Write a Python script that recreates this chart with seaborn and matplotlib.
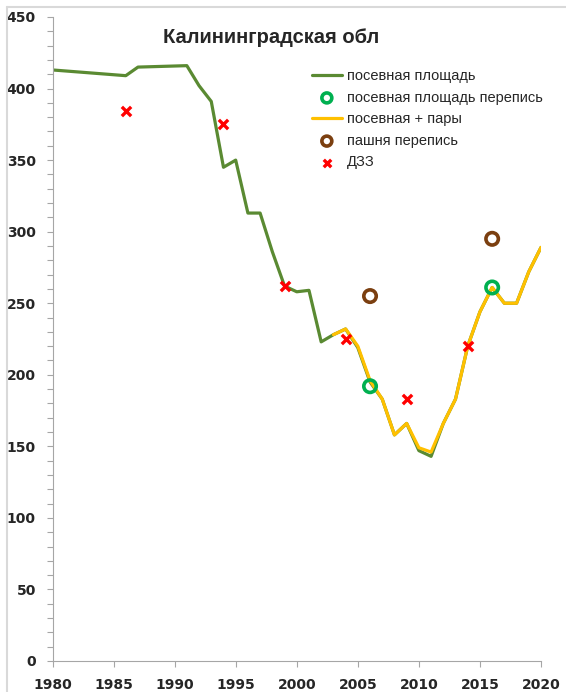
import matplotlib
matplotlib.use("Agg")
import matplotlib.pyplot as plt
import seaborn as sns
import pandas as pd
from matplotlib.lines import Line2D
from matplotlib.ticker import MultipleLocator

# ---- data ----
years_sown = [1980, 1986, 1987, 1991, 1992, 1993, 1994, 1995, 1996, 1997, 1998, 1999,
              2000, 2001, 2002, 2003, 2004, 2005, 2006, 2007, 2008, 2009, 2010, 2011,
              2012, 2013, 2014, 2015, 2016, 2017, 2018, 2019, 2020]
sown = [413, 409, 415, 416, 402, 391, 345, 350, 313, 313, 286, 262,
        258, 259, 223, 228, 232, 219, 195, 183, 158, 166, 147, 143,
        166, 183, 220, 244, 261, 250, 250, 272, 289]

years_fallow = [2003, 2004, 2005, 2006, 2007, 2008, 2009, 2010, 2011, 2012, 2013,
                2014, 2015, 2016, 2017, 2018, 2019, 2020]
sown_fallow = [228, 232, 220, 196, 183, 158, 166, 149, 146, 166, 183,
               220, 244, 261, 250, 250, 272, 289]

census_years = [2006, 2016]
census_sown = [192, 261]
census_arable = [255, 295]

rs_years = [1986, 1994, 1999, 2004, 2009, 2014]
rs_values = [384, 375, 262, 225, 183, 220]

labels = ["посевная площадь", "посевная площадь перепись", "посевная + пары",
          "пашня перепись", "ДЗЗ"]
title = "Калининградская обл"
x_ticks = list(range(1980, 2021, 5))
y_ticks = list(range(0, 451, 50))

# ---- style ----
sns.set_style("white")
plt.rcParams["font.family"] = ["Liberation Sans", "DejaVu Sans"]

W, H = 566, 692
fig = plt.figure(figsize=(W / 100, H / 100), dpi=100)
ax = fig.add_axes([52.5 / W, (H - 661) / H, (541 - 52.5) / W, (661 - 17) / H])

df_sown = pd.DataFrame({"year": years_sown, "v": sown})
df_fallow = pd.DataFrame({"year": years_fallow, "v": sown_fallow})
df_cs = pd.DataFrame({"year": census_years, "v": census_sown})
df_ca = pd.DataFrame({"year": census_years, "v": census_arable})
df_rs = pd.DataFrame({"year": rs_years, "v": rs_values})

sns.lineplot(data=df_sown, x="year", y="v", ax=ax, color="#5A8A32", lw=2.3,
             label=labels[0], zorder=2)
sns.scatterplot(data=df_cs, x="year", y="v", ax=ax, marker="o", s=80,
                facecolors="none", edgecolors="#00B050", linewidths=2.6,
                label=labels[1], zorder=5)
sns.lineplot(data=df_fallow, x="year", y="v", ax=ax, color="#FFC000", lw=2.3,
             label=labels[2], zorder=3)
sns.scatterplot(data=df_ca, x="year", y="v", ax=ax, marker="o", s=80,
                facecolors="none", edgecolors="#7B3F10", linewidths=2.6,
                label=labels[3], zorder=5)
sns.scatterplot(data=df_rs, x="year", y="v", ax=ax, marker="x", s=45,
                color="#FF0000", linewidth=2.4, label=labels[4], zorder=6)

ax.set_xlim(1980, 2020)
ax.set_ylim(0, 450)
ax.set_xticks(x_ticks)
ax.set_yticks(y_ticks)
ax.yaxis.set_minor_locator(MultipleLocator(10))
ax.set_xlabel("")
ax.set_ylabel("")
for lab in ax.get_xticklabels() + ax.get_yticklabels():
    lab.set_fontweight("bold")
    lab.set_fontsize(10)
    lab.set_fontfamily("DejaVu Sans")
ax.tick_params(axis="both", which="major", direction="out", length=4, width=0.8,
               color="#A6A6A6", left=True, bottom=True)
ax.tick_params(axis="y", which="minor", direction="out", length=4, width=0.8,
               color="#A6A6A6", left=True)
ax.tick_params(axis="y", pad=8)
ax.tick_params(axis="x", pad=8.5)
for s in ["top", "right"]:
    ax.spines[s].set_visible(False)
for s in ["left", "bottom"]:
    ax.spines[s].set_color("#A6A6A6")
    ax.spines[s].set_linewidth(0.8)

fig.text(271.5 / W, 1 - 43.3 / H, title, ha="center", va="baseline",
         fontsize=14.5, fontweight="bold", family=["Liberation Sans", "DejaVu Sans"])

h, l = ax.get_legend_handles_labels()
order = [l.index(x) for x in labels]
leg = ax.legend([h[i] for i in order], [l[i] for i in order], loc="upper left",
                bbox_to_anchor=(0.531, 0.919), frameon=False, fontsize=10.5,
                handlelength=2.05, labelspacing=0.52, handletextpad=0.36,
                borderpad=0, borderaxespad=0, markerscale=0.8)

# chart-area border (top and left edges visible)
fig.add_artist(Line2D([7 / W, 7 / W], [0, 1 - 6.5 / H], transform=fig.transFigure,
                      color="#D9D9D9", lw=1.5))
fig.add_artist(Line2D([7 / W, 1], [1 - 6.5 / H, 1 - 6.5 / H], transform=fig.transFigure,
                      color="#D9D9D9", lw=1.5))

fig.savefig("out.png", dpi=100)
